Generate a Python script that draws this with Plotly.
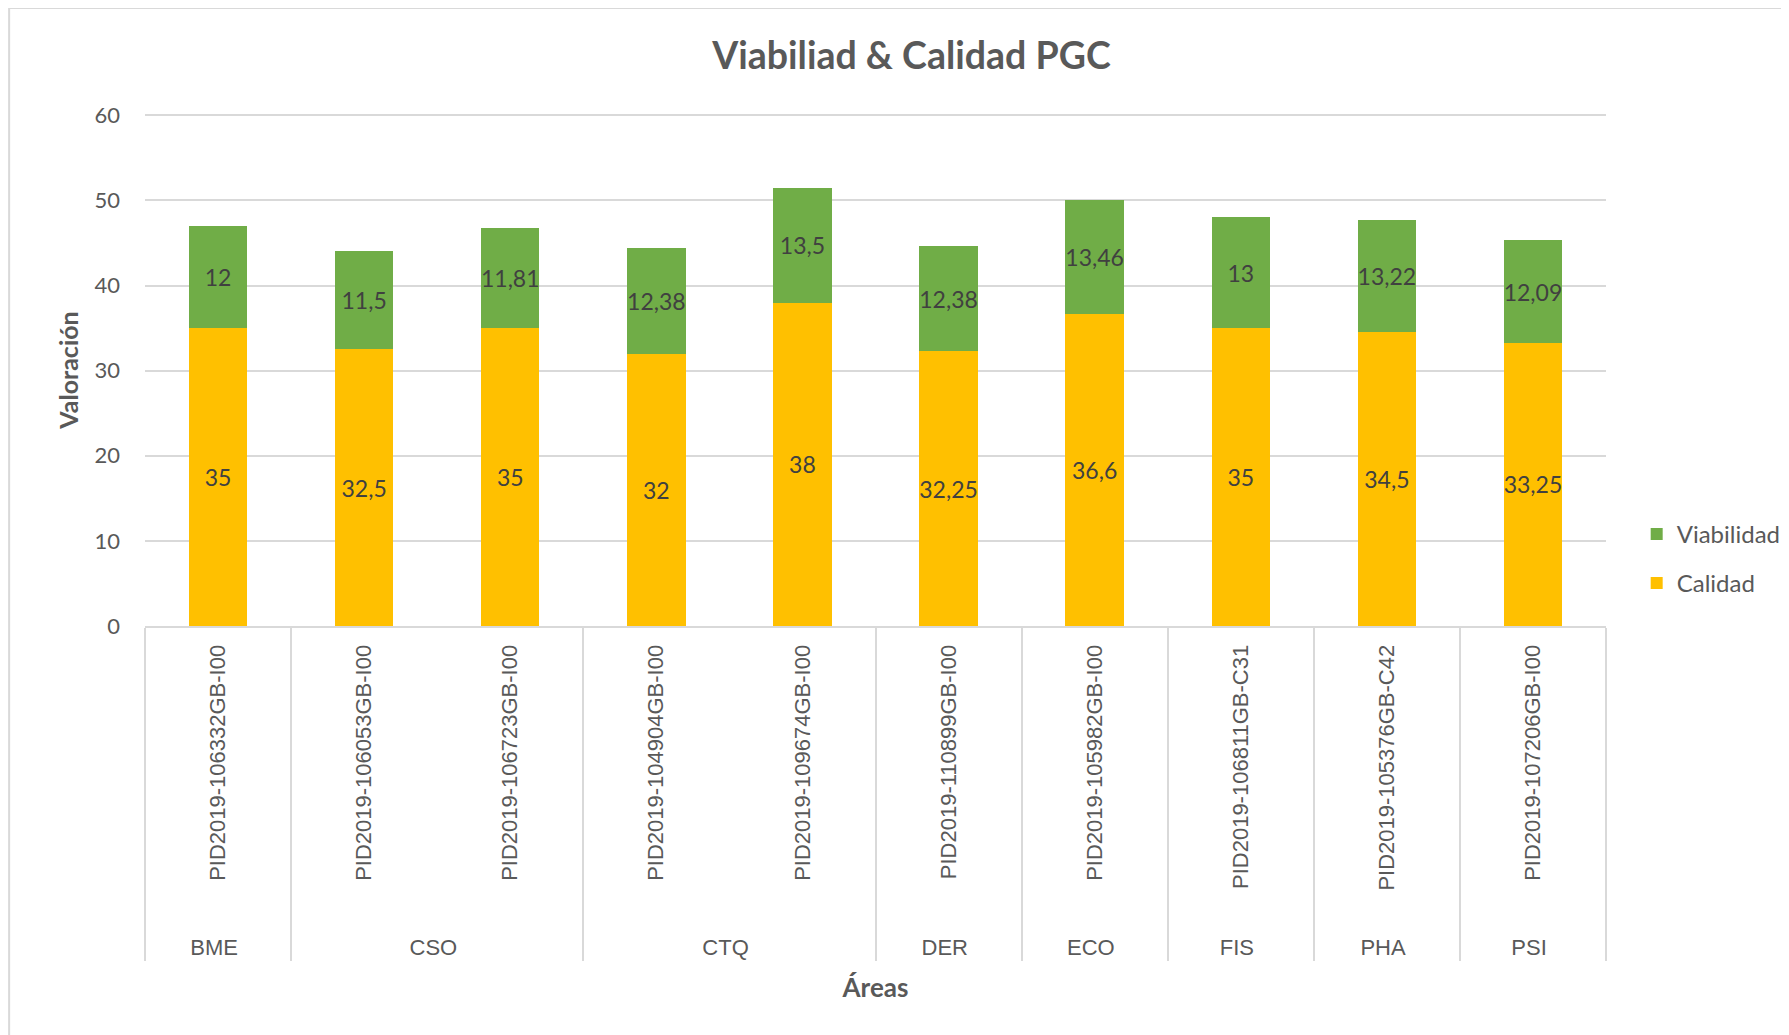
import plotly.graph_objects as go

# Data
areas = ["BME", "CSO", "CSO", "CTQ", "CTQ", "DER", "ECO", "FIS", "PHA", "PSI"]
projects = [
    "PID2019-106332GB-I00",
    "PID2019-106053GB-I00",
    "PID2019-106723GB-I00",
    "PID2019-104904GB-I00",
    "PID2019-109674GB-I00",
    "PID2019-110899GB-I00",
    "PID2019-105982GB-I00",
    "PID2019-106811GB-C31",
    "PID2019-105376GB-C42",
    "PID2019-107206GB-I00",
]
calidad = [35, 32.5, 35, 32, 38, 32.25, 36.6, 35, 34.5, 33.25]
viabilidad = [12, 11.5, 11.81, 12.38, 13.5, 12.38, 13.46, 13, 13.22, 12.09]
y_ticks = [0, 10, 20, 30, 40, 50, 60]


def es_num(v):
    # Spanish decimal comma, as in the original labels
    return f"{v:g}".replace(".", ",")


# a little padding so the area row sits lower, like the Excel table axis
proj_lbl = ["\u00a0" * 5 + p for p in projects]

GREEN = "#70AD47"
YELLOW = "#FFC000"
GRID = "#D9D9D9"
TXT = "#595959"
LBL = "#404040"
FONT = "Lato, 'Open Sans', sans-serif"

fig = go.Figure()

fig.add_trace(go.Bar(
    x=[areas, proj_lbl], y=calidad, name="Calidad",
    legendgroup="c", legendrank=2,
    marker=dict(color=YELLOW, line=dict(width=0)),
    text=[es_num(v) for v in calidad],
    textposition="inside", insidetextanchor="middle", textangle=0,
    constraintext="none",
    textfont=dict(family=FONT, size=23, color=LBL),
))
fig.add_trace(go.Bar(
    x=[areas, proj_lbl], y=viabilidad, name="Viabilidad",
    legendgroup="v", legendrank=1,
    marker=dict(color=GREEN, line=dict(width=0)),
    text=[es_num(v) for v in viabilidad],
    textposition="inside", insidetextanchor="middle", textangle=0,
    constraintext="none",
    textfont=dict(family=FONT, size=23, color=LBL),
))

# light outer chart border (Excel chart area)
fig.add_shape(type="rect", xref="paper", yref="paper",
              x0=-0.093, x1=1.4, y0=-1.5, y1=1.207,
              line=dict(color=GRID, width=2), fillcolor="rgba(0,0,0,0)",
              layer="below")

fig.update_layout(
    width=1789, height=1035,
    margin=dict(l=137, r=191, t=106, b=417, autoexpand=False),
    paper_bgcolor="white", plot_bgcolor="white",
    barmode="stack", bargap=0.6,
    uniformtext=dict(mode=False),
    title=dict(text="<b>Viabiliad & Calidad PGC</b>", x=0.505, xanchor="center",
               y=0.954, yanchor="middle",
               font=dict(family=FONT, size=37.5, color=TXT)),
    legend=dict(x=1.021, y=0.223, xanchor="left", yanchor="top",
                traceorder="grouped", tracegroupgap=15,
                font=dict(family=FONT, size=24, color=TXT), itemwidth=30),
    font=dict(family=FONT, color=TXT),
)

fig.update_yaxes(
    range=[0, 60.15], tickvals=y_ticks, showgrid=True, gridcolor=GRID, gridwidth=2,
    zeroline=False, showline=False, ticks="",
    tickfont=dict(family=FONT, size=22, color=TXT), ticklabelstandoff=24,
    title=dict(text="<b>Valoración</b>", font=dict(family=FONT, size=25, color=TXT),
               standoff=8),
)
fig.update_xaxes(
    type="multicategory", showline=True, linecolor=GRID, linewidth=2,
    showdividers=True, dividercolor=GRID, dividerwidth=2,
    ticks="", tickangle=-90, ticklabelstandoff=8,
    tickfont=dict(family="'Liberation Sans', Arial, sans-serif", size=22, color=TXT),
    title=dict(text="<b>Áreas</b>", font=dict(family=FONT, size=26, color=TXT),
               standoff=20),
)

fig.write_html("out.html")
